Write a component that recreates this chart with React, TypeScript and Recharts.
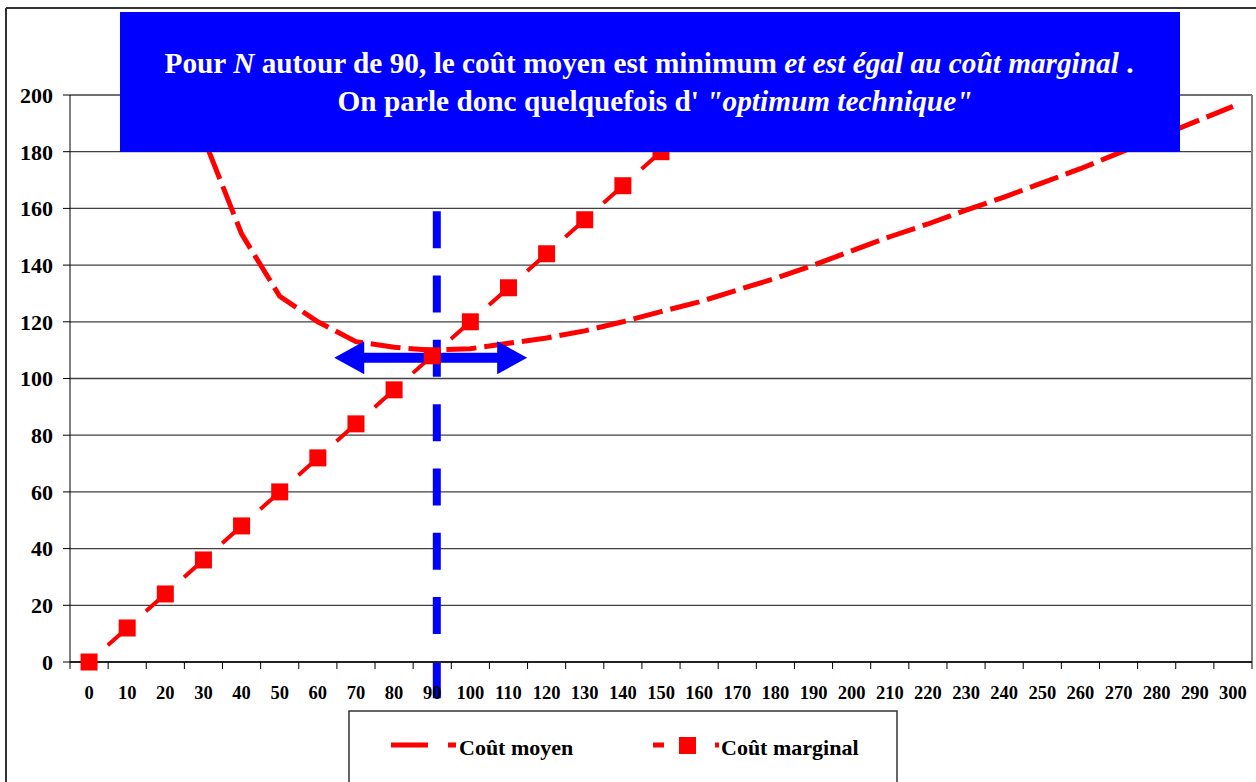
import {
  ComposedChart,
  Line,
  XAxis,
  YAxis,
  CartesianGrid,
  ReferenceLine,
} from "recharts";

const quantities = [
  0, 10, 20, 30, 40, 50, 60, 70, 80, 90, 100, 110, 120, 130, 140, 150,
  160, 170, 180, 190, 200, 210, 220, 230, 240, 250, 260, 270, 280, 290, 300,
];

const coutMoyen = [
  null, 500, 262, 185, 151, 129, 120, 113, 111, 110, 110.5, 112.4, 114.3,
  116.8, 120, 123.6, 127, 131.2, 135.3, 140, 145, 150, 154.5, 159.4, 164,
  169, 174, 179.5, 185, 190.5, 196,
];

const coutMarginal = [
  0, 12, 24, 36, 48, 60, 72, 84, 96, 108, 120, 132, 144, 156, 168, 180, 192,
];

const yTicks = [0, 20, 40, 60, 80, 100, 120, 140, 160, 180, 200];

const W = 1256;
const H = 782;
const PLOT_LEFT = 70;
const PLOT_RIGHT = 1252;
const HALF_BAND = (PLOT_RIGHT - PLOT_LEFT) / 31 / 2;
const FONT = "Liberation Serif, Times New Roman, serif";
const RED = "#FF0000";
const BLUE = "#0000FF";

const chartData = quantities.map((n, i) => ({
  n,
  moyen: coutMoyen[i] ?? null,
  marginal: coutMarginal[i] ?? null,
}));

const XTick = (props: any) => {
  const { x, y, payload } = props;
  return (
    <g>
      <line x1={x + HALF_BAND} x2={x + HALF_BAND} y1={y - 7} y2={y} stroke="#000" />
      {payload.value === 0 && (
        <line x1={x - HALF_BAND} x2={x - HALF_BAND} y1={y - 7} y2={y} stroke="#000" />
      )}
      <text
        x={x}
        y={y + 30}
        textAnchor="middle"
        fontSize={18.5}
        fontWeight={700}
        fontFamily={FONT}
        fill="#000"
      >
        {payload.value}
      </text>
    </g>
  );
};

const SquareDot = (props: any) => {
  const { cx, cy, index } = props;
  if (cx == null || cy == null) return <g key={index} />;
  return <rect key={index} x={cx - 8.5} y={cy - 8.5} width={17} height={17} fill={RED} />;
};

// double arrow drawn from the segment end points
const DoubleArrow = (props: any) => {
  const { x1, x2, y1 } = props;
  const left = Math.min(x1, x2);
  const right = Math.max(x1, x2);
  const head = 30;
  const hh = 16.5;
  const bar = 5;
  const pts = [
    [left, y1],
    [left + head, y1 - hh],
    [left + head, y1 - bar],
    [right - head, y1 - bar],
    [right - head, y1 - hh],
    [right, y1],
    [right - head, y1 + hh],
    [right - head, y1 + bar],
    [left + head, y1 + bar],
    [left + head, y1 + hh],
  ]
    .map((p) => p.join(","))
    .join(" ");
  return <polygon points={pts} fill={BLUE} />;
};

const App = () => {
  return (
    <div
      style={{
        position: "absolute",
        left: 0,
        top: 0,
        width: W,
        height: H,
        background: "#fff",
        overflow: "hidden",
      }}
    >
      <ComposedChart
        width={W}
        height={H}
        data={chartData}
        margin={{ top: 95, right: W - PLOT_RIGHT, bottom: 80, left: 10 }}
      >
        <CartesianGrid vertical={false} stroke="#404040" strokeWidth={1.3} />

        <XAxis
          type="number"
          dataKey="n"
          domain={[-5, 305]}
          ticks={quantities}
          interval={0}
          height={40}
          tickSize={7}
          tickMargin={0}
          tickLine={false}
          axisLine={{ stroke: "#222", strokeWidth: 2 }}
          tick={<XTick />}
        />

        <YAxis
          domain={[0, 200]}
          ticks={yTicks}
          allowDataOverflow
          width={60}
          tickSize={7}
          tickMargin={10}
          axisLine={{ stroke: "#000" }}
          tickLine={{ stroke: "#000" }}
          tick={{ fontSize: 22, fontWeight: 700, fill: "#000", fontFamily: FONT }}
        />
        <YAxis yAxisId="m" hide domain={[0, 200]} />

        <ReferenceLine x={305} stroke="#808080" strokeWidth={2} />

        <Line
          type="linear"
          dataKey="moyen"
          stroke={RED}
          strokeWidth={5}
          strokeDasharray="30 8"
          dot={false}
          activeDot={false}
          isAnimationActive={false}
        />
        <Line
          yAxisId="m"
          type="linear"
          dataKey="marginal"
          stroke={RED}
          strokeWidth={4}
          strokeDasharray="26 25.1"
          strokeDashoffset={26}
          dot={<SquareDot />}
          activeDot={false}
          isAnimationActive={false}
        />

        <ReferenceLine
          segment={[
            { x: 91.2, y: 159 },
            { x: 91.2, y: -43 },
          ]}
          ifOverflow="visible"
          stroke={BLUE}
          strokeWidth={8}
          strokeDasharray="37 27.3"
        />
        <ReferenceLine
          segment={[
            { x: 64.3, y: 107.3 },
            { x: 114.9, y: 107.3 },
          ]}
          ifOverflow="visible"
          shape={(p: any) => <DoubleArrow {...p} />}
        />
      </ComposedChart>

      <svg
        width={W}
        height={H}
        style={{ position: "absolute", left: 0, top: 0, pointerEvents: "none" }}
      >
        {/* outer frame */}
        <line x1={6} y1={8} x2={W} y2={8} stroke="#333" strokeWidth={2} />
        <line x1={6} y1={8} x2={6} y2={H} stroke="#333" strokeWidth={2} />

        {/* annotation box */}
        <rect x={120} y={12} width={1060} height={140} fill={BLUE} />
        <text
          x={649}
          y={73}
          textAnchor="middle"
          fill="#fff"
          fontSize={29.3}
          fontWeight={700}
          fontFamily={FONT}
        >
          Pour <tspan fontStyle="italic">N</tspan>
          {"  autour de 90, le coût moyen est minimum "}
          <tspan fontStyle="italic">et est égal au coût marginal</tspan>
          {" ."}
        </text>
        <text
          x={655}
          y={111}
          textAnchor="middle"
          fill="#fff"
          fontSize={29.3}
          fontWeight={700}
          fontFamily={FONT}
        >
          {"On parle donc quelquefois d' "}
          <tspan fontStyle="italic">"optimum technique"</tspan>
        </text>

        {/* legend */}
        <rect x={349} y={711} width={548} height={80} fill="#fff" stroke="#333" strokeWidth={1.5} />
        <line
          x1={391}
          y1={745}
          x2={456}
          y2={745}
          stroke={RED}
          strokeWidth={5}
          strokeDasharray="37 20 8"
        />
        <text x={459} y={755} fontSize={22} fontWeight={700} fontFamily={FONT} fill="#000">
          Coût moyen
        </text>
        <line x1={653} y1={745} x2={664} y2={745} stroke={RED} strokeWidth={5} />
        <rect x={679} y={737} width={17} height={17} fill={RED} />
        <line x1={715} y1={745} x2={719} y2={745} stroke={RED} strokeWidth={5} />
        <text x={721} y={755} fontSize={22} fontWeight={700} fontFamily={FONT} fill="#000">
          Coût marginal
        </text>
      </svg>
    </div>
  );
};

export default App;
